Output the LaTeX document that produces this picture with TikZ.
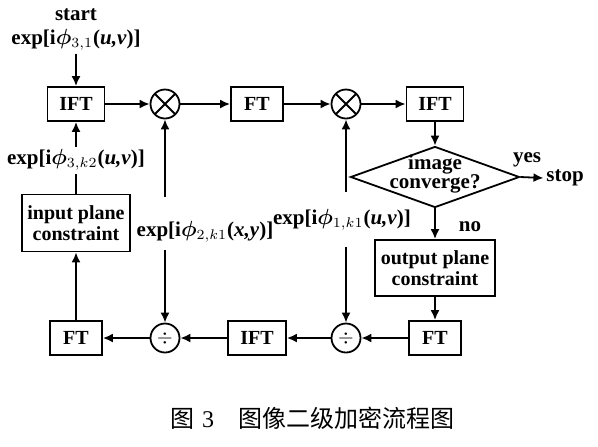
\documentclass[tikz,border=0pt]{standalone}
\usepackage{amsmath}
\usepackage{bm}
\usepackage{fontspec}
\setmainfont{Liberation Serif}
\newfontfamily\cjk{Noto Sans CJK SC}
\usetikzlibrary{shapes.geometric,arrows.meta}
\newcommand{\phasefac}[2]{exp[i$\bm{\phi}_{#1}$(\textit{#2})]}
\begin{document}
\begin{tikzpicture}[x=0.5pt,y=-0.5pt,line width=0.9pt,
  box/.style={rectangle,draw=black,minimum width=26pt,minimum height=17pt,inner sep=1pt,
    font=\fontsize{10}{10.5}\selectfont\bfseries,align=center},
  opnode/.style={circle,draw=black,minimum size=14.5pt,inner sep=0pt},
  mult/.style={opnode,path picture={\draw (path picture bounding box.center)
    +(45:8pt) -- +(225:8pt) +(135:8pt) -- +(-45:8pt);}},
  decision/.style={diamond,draw=black,minimum width=84.5pt,minimum height=30.5pt,inner sep=0pt,
    font=\fontsize{10.5}{12}\selectfont\bfseries},
  lab/.style={inner sep=1pt,font=\fontsize{10.5}{12}\selectfont\bfseries},
  flow/.style={-{Latex[length=5pt,width=4.5pt]}}]
\useasboundingbox (0,0) rectangle (598,446);
% top row, col, row in pixels
\node[lab] (start) at (76,15) {start};
\node[lab] (ph31) at (76,40) {\phasefac{3,1}{u,v}};
\node[box,minimum width=28.5pt] (ift1) at (76,104) {IFT};
\node[mult] (mul1) at (165,104) {};
\node[box] (ft1) at (257,104) {FT};
\node[mult] (mul2) at (346,104) {};
\node[box,minimum width=28.5pt] (ift2) at (435,104) {IFT};
\node[decision] (conv) at (435,177) {\smash{\makebox[0pt]{\raisebox{-1.5pt}{\begin{tabular}{@{}c@{}}image\\[-2.5pt]converge?\end{tabular}}}}};
\node[lab] (yes) at (527,160) {yes};
\node[lab] (stop) at (565,178) {stop};
\node[lab] (no) at (470,227) {no};
\node[box,minimum width=60pt,minimum height=28pt] (outbox) at (435,268) {output plane\\constraint};
% left side
\node[lab] (ph3k2) at (76,160) {\phasefac{3,k2}{u,v}};
\node[box,minimum width=54pt,minimum height=28.5pt] (inbox) at (76,223) {input plane\\constraint};
\node[lab] (ph2) at (205,232) {\phasefac{2,k1}{x,y}};
\node[lab] (ph1) at (342,220) {\phasefac{1,k1}{u,v}};
\coordinate (c2top) at (165,197);
\coordinate (c2bot) at (165,250);
\coordinate (c1top) at (346,192);
\coordinate (c1bot) at (346,247);
% bottom row
\node[box] (ft4) at (76,338) {FT};
\node[opnode] (div1) at (165,338) {$\div$};
\node[box,minimum width=29pt] (ift3) at (257,338) {IFT};
\node[opnode] (div2) at (346,338) {$\div$};
\node[box] (ft3) at (435,338) {FT};
\node[font=\cjk\fontsize{12}{14}\selectfont] (cap) at (312,418) {图\hspace{4pt}{\rmfamily 3}\hspace{12pt}图像二级加密流程图};
% connectors
\draw[flow] (ph31) -- (ift1);
\draw[flow] (ift1) -- (mul1);
\draw[flow] (mul1) -- (ft1);
\draw[flow] (ft1) -- (mul2);
\draw[flow] (mul2) -- (ift2);
\draw[flow] (ift2) -- (conv);
\draw[flow] (conv.east) -- (stop.west);
\draw[flow] (conv) -- (outbox);
\draw[flow] (outbox) -- (ft3);
\draw[flow] (ft3) -- (div2);
\draw[flow] (div2) -- (ift3);
\draw[flow] (ift3) -- (div1);
\draw[flow] (div1) -- (ft4);
\draw[flow] (ft4) -- (inbox);
\draw (inbox) -- (ph3k2);
\draw[flow] (ph3k2) -- (ift1);
\draw[flow] (c2top) -- (mul1);
\draw[flow] (c2bot) -- (div1);
\draw[flow] (c1top) -- (mul2);
\draw[flow] (c1bot) -- (div2);
\end{tikzpicture}
\end{document}
